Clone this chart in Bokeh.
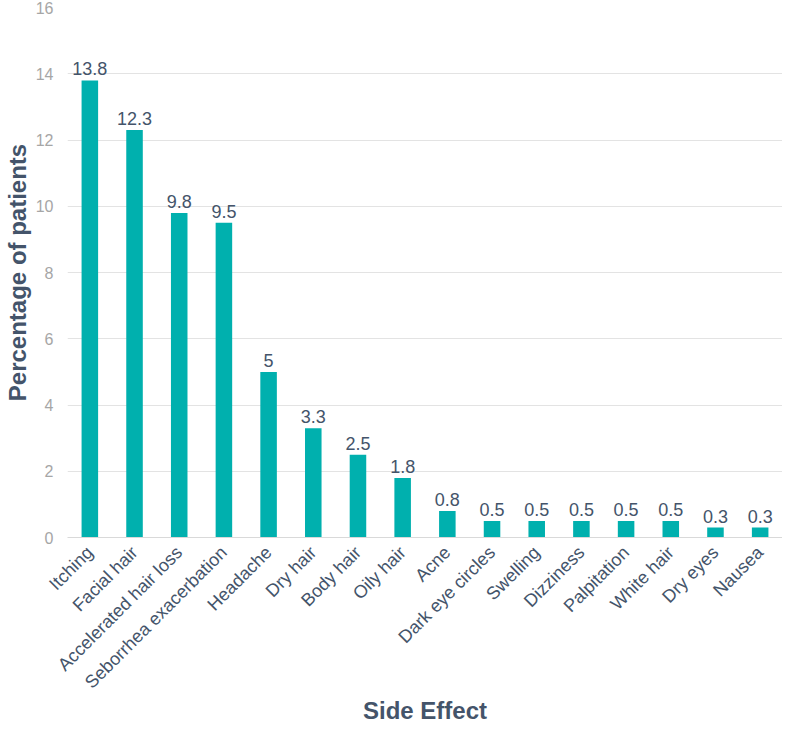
import math
from bokeh.plotting import figure
from bokeh.models import ColumnDataSource, Range1d, FixedTicker
from bokeh.core.properties import value
from bokeh.embed import file_html
from bokeh.resources import INLINE

effects = ["Itching", "Facial hair", "Accelerated hair loss", "Seborrhea exacerbation",
           "Headache", "Dry hair", "Body hair", "Oily hair", "Acne", "Dark eye circles",
           "Swelling", "Dizziness", "Palpitation", "White hair", "Dry eyes", "Nausea"]
percent = [13.8, 12.3, 9.8, 9.5, 5, 3.3, 2.5, 1.8, 0.8, 0.5, 0.5, 0.5, 0.5, 0.5, 0.3, 0.3]
y_ticks = [0, 2, 4, 6, 8, 10, 12, 14, 16]

FONT = "Liberation Sans"
DARK = "#44546A"
TEAL = "#00B0AE"

src = ColumnDataSource(dict(x=effects, y=percent, lab=[f"{v:g}" for v in percent]))

p = figure(x_range=effects, y_range=Range1d(0, 16), width=782, height=727,
           output_backend="svg", toolbar_location=None,
           min_border_left=58, min_border_right=0, min_border_top=7, min_border_bottom=185)
p.outline_line_color = None
p.background_fill_color = "white"

p.vbar(x="x", top="y", width=0.37, source=src, fill_color=TEAL, line_color=None)
p.text(x="x", y="y", text="lab", source=src, text_align="center", text_baseline="bottom",
       y_offset=-5, text_font=value(FONT), text_font_size="18px", text_color=DARK)

p.xgrid.grid_line_color = None
p.ygrid.grid_line_color = "#E3E3E3"
p.ygrid.ticker = FixedTicker(ticks=y_ticks)

ya = p.yaxis[0]
ya.ticker = FixedTicker(ticks=y_ticks)
ya.axis_line_color = None
ya.major_tick_line_color = None
ya.minor_tick_line_color = None
ya.major_tick_out = 0
ya.major_tick_in = 0
ya.minor_tick_out = 0
ya.minor_tick_in = 0
ya.major_label_text_color = "#A6A6A6"
ya.major_label_text_font = FONT
ya.major_label_text_font_size = "16px"
ya.major_label_standoff = 14
ya.axis_label = "Percentage of patients"
ya.axis_label_text_font = FONT
ya.axis_label_text_font_style = "bold"
ya.axis_label_text_font_size = "24px"
ya.axis_label_text_color = DARK
ya.axis_label_standoff = 2

xa = p.xaxis[0]
xa.axis_line_color = "#D9D9D9"
xa.major_tick_line_color = None
xa.minor_tick_line_color = None
xa.major_tick_out = 0
xa.major_tick_in = 0
xa.minor_tick_out = 0
xa.minor_tick_in = 0
xa.major_label_orientation = math.pi / 4
xa.major_label_text_font = FONT
xa.major_label_text_font_size = "18px"
xa.major_label_text_color = DARK
xa.major_label_standoff = 12
xa.axis_label = "Side Effect"
xa.axis_label_text_font = FONT
xa.axis_label_text_font_style = "bold"
xa.axis_label_text_font_size = "24px"
xa.axis_label_text_color = DARK
xa.axis_label_standoff = -5

open("out.html", "w").write(file_html(p, INLINE))
